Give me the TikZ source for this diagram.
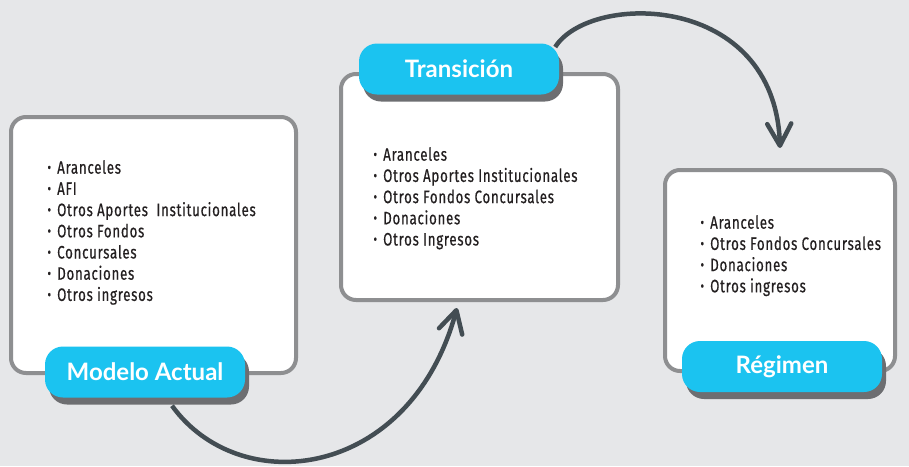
\documentclass[tikz,border=0pt]{standalone}
\usepackage{fontspec}
\usepackage{tikz}
\usetikzlibrary{calc,arrows.meta,shadows}

\newfontfamily\listfont[FakeStretch=0.74, FakeBold=0.5, LetterSpace=4]{Fira Sans}
\newfontfamily\titlefont{Lato}

\definecolor{paper}{HTML}{E6E7E9}
\definecolor{framegray}{HTML}{8E8F91}
\definecolor{tagcyan}{HTML}{1BC3F0}
\definecolor{tagshadow}{HTML}{6D6E71}
\definecolor{flowgray}{HTML}{434D53}
\definecolor{ink}{HTML}{231F20}

\newcommand{\bul}{\makebox[10pt][l]{\raisebox{-1pt}{\scalebox{1.3}{·}}}}

\tikzset{
	panel/.style={draw=framegray, line width=4pt, fill=white, rounded corners=15pt},
	tag/.style={fill=tagcyan, rounded corners=18pt, text=white,
		font=\titlefont\bfseries\fontsize{24}{24}\selectfont,
		minimum width=200pt, minimum height=51pt,
		general shadow={fill=tagshadow, shadow xshift=4pt, shadow yshift=-7pt}},
	itemlist/.style={anchor=north west, align=left, inner sep=0pt, text=ink,
		font=\listfont\fontsize{18}{21.2}\selectfont},
	flow/.style={draw=flowgray, line width=4.5pt,
		-{Straight Barb[length=22pt, width=24pt, round]}}
}

\begin{document}
\begin{tikzpicture}[x=1pt, y=-1pt]

	% canvas
	\fill[paper] (0,0) rectangle (909,466);
	\useasboundingbox (0,0) rectangle (909,466);

	% panels
	\node[panel, minimum width=285pt, minimum height=256pt] (modelo) at (153.5,245) {};
	\node[panel, minimum width=277pt, minimum height=226pt] (trans) at (479.5,187) {};
	\node[panel, minimum width=230pt, minimum height=201pt] (reg) at (780,270.5) {};

	% lists
	\node[itemlist] (modelolist) at (47,160) {\bul Aranceles\\ \bul AFI\\
		\bul Otros Aportes\ \ Institucionales\\ \bul Otros Fondos\\
		\bul Concursales\\ \bul Donaciones\\ \bul Otros ingresos};
	\node[itemlist] (translist) at (373,147) {\bul Aranceles\\
		\bul Otros Aportes Institucionales\\ \bul Otros Fondos Concursales\\
		\bul Donaciones\\ \bul Otros Ingresos};
	\node[itemlist] (reglist) at (700,215) {\bul Aranceles\\
		\bul Otros Fondos Concursales\\ \bul Donaciones\\ \bul Otros ingresos};

	% labels
	\node[tag] (mlab) at (145,372) {Modelo Actual};
	\node[tag] (tlab) at (459,69) {Transición};
	\node[tag] (rlab) at (782,366.5) {Régimen};

	% arrows
	\draw[flow] ([xshift=27pt,yshift=-8pt]mlab.south)
	.. controls (240,500) and (410,480) .. ([xshift=-22.5pt,yshift=-6pt]trans.south);
	\draw[flow] ([xshift=-4pt,yshift=22pt]tlab.east)
	.. controls (590,-8) and (775,-8) .. ([yshift=20pt]reg.north);

\end{tikzpicture}
\end{document}
